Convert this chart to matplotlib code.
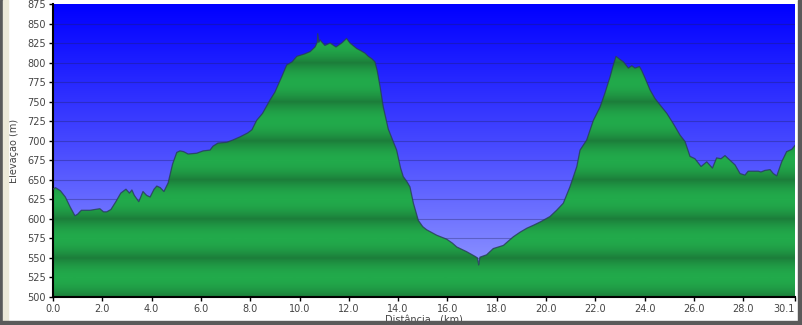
import numpy as np
import matplotlib
matplotlib.use('Agg')
import matplotlib.pyplot as plt
from matplotlib.patches import Rectangle
from matplotlib.colors import LinearSegmentedColormap

# elevation profile
dist_km = [0.0, 0.1, 0.3, 0.5, 0.7, 0.89, 1.0, 1.15, 1.5, 1.9, 2.05, 2.18, 2.35, 2.55,
           2.75, 2.96, 3.1, 3.2, 3.3, 3.48, 3.65, 3.8, 3.94, 4.1, 4.21, 4.35, 4.5, 4.67,
           4.85, 5.02, 5.15, 5.3, 5.48, 5.83, 6.09, 6.37, 6.49, 6.69, 7.05, 7.3, 7.59,
           7.9, 8.07, 8.26, 8.5, 8.8, 9.0, 9.28, 9.48, 9.7, 9.89, 10.2, 10.43, 10.63,
           10.72, 10.74, 10.78, 10.83, 11.03, 11.24, 11.48, 11.71, 11.91, 12.05, 12.32,
           12.5, 12.66, 12.79, 12.93, 13.06, 13.15, 13.27, 13.4, 13.6, 13.94, 14.1,
           14.21, 14.35, 14.48, 14.62, 14.82, 15.0, 15.16, 15.57, 15.97, 16.2, 16.38,
           16.78, 17.12, 17.22, 17.27, 17.32, 17.59, 17.86, 18.27, 18.67, 18.95, 19.22,
           19.5, 19.76, 20.16, 20.43, 20.7, 20.97, 21.25, 21.38, 21.65, 21.92, 22.19,
           22.39, 22.6, 22.73, 22.84, 23.0, 23.14, 23.34, 23.48, 23.61, 23.79, 23.88,
           24.02, 24.22, 24.42, 24.62, 24.9, 25.16, 25.44, 25.64, 25.84, 26.04, 26.29,
           26.52, 26.75, 26.92, 27.1, 27.26, 27.53, 27.67, 27.87, 28.07, 28.2, 28.61,
           28.72, 28.88, 29.09, 29.22, 29.36, 29.56, 29.76, 29.97, 30.1]
elev_m = [638, 640, 636, 628, 615, 604, 606, 611, 611, 613, 609, 609, 612, 622,
          633, 638, 633, 637, 630, 622, 635, 630, 628, 638, 642, 640, 635, 646,
          670, 685, 687, 686, 683, 684, 687, 688, 693, 697, 698, 701, 705,
          710, 714, 726, 735, 752, 762, 782, 797, 801, 808, 811, 814, 820,
          826, 837, 826, 829, 822, 825, 820, 825, 831, 825, 818,
          815, 812, 808, 805, 801, 790, 769, 743, 715, 688, 665,
          654, 648, 641, 620, 598, 590, 586, 579, 574, 569, 564,
          558, 552, 550, 541, 551, 554, 562, 566, 577, 583, 588,
          592, 596, 603, 611, 620, 641, 667, 688, 701, 726, 743,
          761, 782, 797, 808, 804, 801, 793, 796, 793, 795, 790,
          780, 765, 754, 746, 735, 722, 707, 699, 680, 677, 667,
          673, 665, 678, 677, 681, 673, 669, 658, 656, 661, 661,
          660, 662, 663, 658, 655, 673, 686, 689, 694]

xticks = [0, 2, 4, 6, 8, 10, 12, 14, 16, 18, 20, 22, 24, 26, 28, 30.1]
xtick_labels = ['0.0', '2.0', '4.0', '6.0', '8.0', '10.0', '12.0', '14.0', '16.0',
                '18.0', '20.0', '22.0', '24.0', '26.0', '28.0', '30.1']
yticks = list(range(500, 876, 25))

xmin, xmax = 0, 30.1
ymin, ymax = 500, 875

fig = plt.figure(figsize=(8.03, 3.25), dpi=100)
fig.patch.set_facecolor('white')

# window frame bits
fig.patches.append(Rectangle((0, 0), 3/803, 1, transform=fig.transFigure,
                             color='#5a5a5a', zorder=0))
fig.patches.append(Rectangle((3/803, 0), 5/803, 1, transform=fig.transFigure,
                             color='#ece9d8', zorder=0))
fig.patches.append(Rectangle((798/803, 0), 5/803, 1, transform=fig.transFigure,
                             color='#5a5a5a', zorder=0))
fig.patches.append(Rectangle((0, 0), 1, 4/325, transform=fig.transFigure,
                             color='#5a5a5a', zorder=0))

ax = fig.add_axes([53/803, 28/325, 742/803, 293/325])

# sky gradient: deep blue on top, pale at the bottom
sky = LinearSegmentedColormap.from_list('sky', ['#0000ff', '#4a4cff', '#9da4ff'])
grad = np.linspace(1, 0, 256).reshape(-1, 1)
ax.imshow(grad, cmap=sky, aspect='auto', extent=[xmin, xmax, ymin, ymax],
          origin='lower', zorder=0, vmin=0, vmax=1)

for yv in yticks[1:-1]:
    ax.axhline(yv, color='#202060', alpha=0.35, lw=0.8, zorder=1)

# green striped fill, dark at every 50 m
yy = np.linspace(ymin, ymax, 1500)
phase = ((yy - ymin) % 50) / 50.0
shade = (0.5 - 0.5 * np.cos(2 * np.pi * phase)) ** 0.45
green = LinearSegmentedColormap.from_list('gr', ['#1c7d3a', '#22aa4b'])
img = ax.imshow(shade.reshape(-1, 1), cmap=green, aspect='auto', origin='lower',
                extent=[xmin, xmax, ymin, ymax], zorder=2, vmin=0, vmax=1)
poly = ax.fill_between(dist_km, elev_m, ymin, facecolor='none', edgecolor='none')
img.set_clip_path(poly.get_paths()[0], transform=ax.transData)
ax.plot(dist_km, elev_m, color='#283c5a', lw=0.9, alpha=0.8, zorder=3)

ax.set_xlim(xmin, xmax)
ax.set_ylim(ymin, ymax)
ax.set_xticks(xticks)
ax.set_xticklabels(xtick_labels)
ax.set_yticks(yticks)
ax.tick_params(axis='both', labelsize=7, colors='#444444', length=3, width=1,
               direction='out', pad=2)
ax.tick_params(axis='both', color='black')
ax.get_xticklabels()[-1].set_horizontalalignment('right')
for s in ['top', 'right']:
    ax.spines[s].set_visible(False)
for s in ['left', 'bottom']:
    ax.spines[s].set_linewidth(1.5)
    ax.spines[s].set_color('black')

ax.set_ylabel('Elevação (m)', fontsize=7, color='#444444', labelpad=6)
ax.set_xlabel('Distância   (km)', fontsize=7, color='#444444', labelpad=1)

fig.savefig('out.png', dpi=100)
